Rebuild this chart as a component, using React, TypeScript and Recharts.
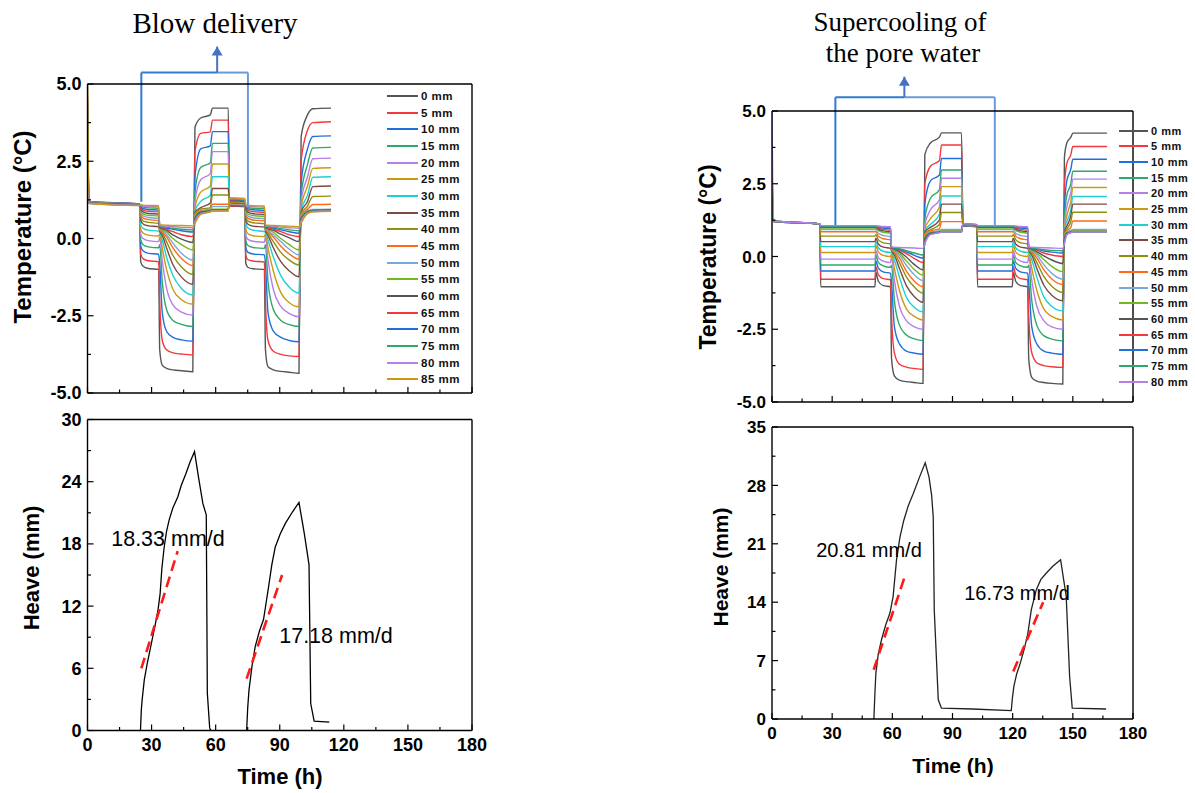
import { Line, LineChart, ReferenceDot, ReferenceLine, XAxis, YAxis } from 'recharts';

const FONT = '"Liberation Sans", Arial, Helvetica, sans-serif';
const SERIF = '"Liberation Serif", "Times New Roman", serif';
const GAP = 6;
const AX = { stroke: '#000', strokeWidth: 1.4 };

const depthLabels = [
  '0 mm', '5 mm', '10 mm', '15 mm', '20 mm', '25 mm', '30 mm', '35 mm', '40 mm',
  '45 mm', '50 mm', '55 mm', '60 mm', '65 mm', '70 mm', '75 mm', '80 mm', '85 mm',
];
const depthColors = [
  '#555555', '#f2393d', '#1f6fdc', '#2ea86a', '#b67fe8', '#cc9a10', '#1ecfd6', '#7b4a44', '#8f8f12',
  '#ff6a14', '#78a7dd', '#70b81e', '#555555', '#f2393d', '#1f6fdc', '#2ea86a', '#b67fe8', '#cc9a10',
];

const timeTicks = [0, 15, 30, 45, 60, 75, 90, 105, 120, 135, 150, 165, 180];
const timeMajors = [0, 30, 60, 90, 120, 150, 180];
const tempTicks = [-5, -3.75, -2.5, -1.25, 0, 1.25, 2.5, 3.75, 5];
const tempMajors = [-5, -2.5, 0, 2.5, 5];
const heaveLeftTicks = [0, 3, 6, 9, 12, 15, 18, 21, 24, 27, 30];
const heaveLeftMajors = [0, 6, 12, 18, 24, 30];
const heaveRightTicks = [0, 3.5, 7, 10.5, 14, 17.5, 21, 24.5, 28, 31.5, 35];
const heaveRightMajors = [0, 7, 14, 21, 28, 35];

// left test (blow delivery): sample times (h) and temperature (°C) per depth
const leftTimes = [
  0, 0.7, 24.4, 24.9, 26, 28.5, 33.3, 33.8, 35, 37, 40, 44, 49.3, 50.3, 53, 57.5, 58.5, 65.9,
  66.4, 73.6, 74.1, 75, 77.5, 82.8, 83.3, 84.5, 87, 90.5, 94.5, 99, 100, 103, 105.5, 114,
];
const leftTemps = [
  [5.0, 1.2, 1.12, -0.75, -0.9, -0.97, -1.0, -3.6, -4.1, -4.2, -4.25, -4.28, -4.31, 3.6, 3.9, 4.0, 4.22, 4.22, 1.05, 1.03, -0.8, -0.93, -0.98, -1.0, -3.6, -4.15, -4.25, -4.3, -4.33, -4.36, 3.3, 4.0, 4.2, 4.22],
  [4.6, 1.19, 1.11, -0.5, -0.65, -0.72, -0.75, -2.0, -3.3, -3.6, -3.7, -3.74, -3.77, 2.8, 3.4, 3.45, 3.83, 3.83, 1.07, 1.05, -0.55, -0.68, -0.73, -0.76, -2.0, -3.3, -3.65, -3.75, -3.8, -3.82, 2.5, 3.5, 3.75, 3.78],
  [4.4, 1.19, 1.11, -0.25, -0.4, -0.48, -0.51, -0.8, -2.4, -3.0, -3.2, -3.28, -3.32, 2.0, 2.9, 3.0, 3.46, 3.46, 1.08, 1.06, -0.3, -0.44, -0.5, -0.53, -0.8, -2.4, -3.0, -3.2, -3.3, -3.34, 1.8, 2.9, 3.3, 3.32],
  [4.2, 1.18, 1.11, -0.05, -0.2, -0.27, -0.3, -0.2, -1.4, -2.3, -2.65, -2.78, -2.85, 1.5, 2.3, 2.45, 3.08, 3.08, 1.1, 1.08, -0.08, -0.22, -0.29, -0.32, -0.2, -1.4, -2.3, -2.65, -2.79, -2.85, 1.4, 2.4, 2.93, 2.95],
  [4.0, 1.18, 1.1, 0.12, 0.0, -0.07, -0.1, 0.05, -0.7, -1.6, -2.15, -2.38, -2.48, 1.2, 1.9, 2.1, 2.81, 2.81, 1.12, 1.1, 0.1, -0.02, -0.09, -0.12, 0.05, -0.7, -1.65, -2.2, -2.43, -2.53, 1.2, 2.0, 2.58, 2.6],
  [3.8, 1.17, 1.1, 0.3, 0.18, 0.11, 0.08, 0.15, -0.3, -1.0, -1.65, -1.98, -2.12, 1.0, 1.5, 1.7, 2.41, 2.41, 1.13, 1.11, 0.3, 0.16, 0.09, 0.06, 0.15, -0.3, -1.05, -1.75, -2.08, -2.21, 1.0, 1.7, 2.27, 2.29],
  [3.9, 1.17, 1.1, 0.45, 0.33, 0.27, 0.24, 0.2, -0.05, -0.6, -1.2, -1.62, -1.83, 0.9, 1.2, 1.4, 2.0, 2.0, 1.15, 1.13, 0.5, 0.35, 0.27, 0.22, 0.2, -0.05, -0.6, -1.2, -1.58, -1.77, 0.9, 1.4, 1.98, 2.0],
  [3.5, 1.17, 1.1, 0.6, 0.47, 0.41, 0.38, 0.25, 0.1, -0.3, -0.85, -1.25, -1.48, 0.85, 1.0, 1.15, 1.62, 1.62, 1.16, 1.14, 0.6, 0.47, 0.4, 0.37, 0.25, 0.1, -0.3, -0.75, -1.05, -1.24, 0.85, 1.2, 1.68, 1.7],
  [3.3, 1.16, 1.09, 0.7, 0.57, 0.52, 0.49, 0.28, 0.18, -0.1, -0.55, -0.92, -1.16, 0.8, 0.95, 1.0, 1.41, 1.41, 1.18, 1.15, 0.7, 0.57, 0.51, 0.48, 0.28, 0.18, -0.1, -0.45, -0.7, -0.86, 0.8, 1.05, 1.36, 1.37],
  [3.0, 1.16, 1.09, 0.78, 0.66, 0.61, 0.58, 0.3, 0.23, 0.05, -0.3, -0.65, -0.88, 0.78, 0.9, 0.95, 1.11, 1.11, 1.2, 1.17, 0.78, 0.66, 0.6, 0.57, 0.3, 0.23, 0.05, -0.25, -0.5, -0.67, 0.78, 0.95, 1.1, 1.11],
  [2.8, 1.16, 1.09, 0.85, 0.73, 0.68, 0.65, 0.32, 0.26, 0.12, -0.15, -0.48, -0.7, 0.75, 0.88, 0.92, 1.03, 1.03, 1.21, 1.18, 0.85, 0.73, 0.67, 0.64, 0.32, 0.26, 0.12, -0.1, -0.35, -0.53, 0.75, 0.9, 0.94, 0.95],
  [2.6, 1.15, 1.08, 0.9, 0.8, 0.75, 0.73, 0.34, 0.29, 0.2, 0.0, -0.2, -0.37, 0.7, 0.86, 0.9, 0.95, 0.95, 1.22, 1.19, 0.9, 0.8, 0.74, 0.72, 0.34, 0.29, 0.2, 0.0, -0.2, -0.37, 0.7, 0.88, 0.92, 0.93],
  [2.4, 1.15, 1.08, 0.95, 0.86, 0.81, 0.79, 0.36, 0.32, 0.26, 0.12, -0.02, -0.13, 0.65, 0.85, 0.9, 0.93, 0.93, 1.23, 1.2, 0.95, 0.86, 0.8, 0.78, 0.36, 0.32, 0.26, 0.14, 0.02, -0.1, 0.65, 0.86, 0.91, 0.92],
  [2.2, 1.15, 1.08, 0.99, 0.92, 0.88, 0.86, 0.38, 0.35, 0.3, 0.22, 0.12, 0.06, 0.6, 0.83, 0.88, 0.92, 0.92, 1.25, 1.22, 0.99, 0.92, 0.87, 0.85, 0.38, 0.35, 0.3, 0.22, 0.12, 0.06, 0.6, 0.85, 0.9, 0.91],
  [2.1, 1.14, 1.08, 1.03, 0.97, 0.94, 0.92, 0.4, 0.38, 0.34, 0.3, 0.25, 0.21, 0.58, 0.82, 0.88, 0.91, 0.91, 1.26, 1.23, 1.03, 0.97, 0.93, 0.91, 0.4, 0.38, 0.34, 0.28, 0.22, 0.17, 0.58, 0.84, 0.89, 0.9],
  [2.0, 1.14, 1.07, 1.06, 1.02, 0.99, 0.98, 0.41, 0.39, 0.37, 0.33, 0.3, 0.28, 0.55, 0.8, 0.87, 0.9, 0.9, 1.28, 1.25, 1.06, 1.01, 0.98, 0.97, 0.41, 0.39, 0.37, 0.32, 0.28, 0.25, 0.55, 0.83, 0.88, 0.9],
  [1.9, 1.14, 1.07, 1.08, 1.05, 1.04, 1.03, 0.42, 0.41, 0.4, 0.38, 0.36, 0.35, 0.55, 0.8, 0.87, 0.9, 0.9, 1.3, 1.27, 1.08, 1.05, 1.03, 1.02, 0.42, 0.41, 0.4, 0.37, 0.35, 0.33, 0.55, 0.82, 0.87, 0.89],
  [5.0, 1.13, 1.07, 1.1, 1.08, 1.07, 1.06, 0.44, 0.44, 0.43, 0.42, 0.42, 0.41, 0.5, 0.78, 0.86, 0.89, 0.89, 1.32, 1.3, 1.1, 1.08, 1.06, 1.05, 0.44, 0.43, 0.42, 0.41, 0.4, 0.38, 0.5, 0.8, 0.86, 0.88],
];

// right test (supercooling): sample times (h) and temperature (°C) per depth, 0–80 mm
const rightTimes = [
  0, 0.8, 23.8, 24.3, 51.3, 51.8, 53, 55.5, 59.1, 59.6, 61, 63.5, 67, 71, 75.3, 76.2, 79, 83.5, 84.5,
  94.5, 95.2, 102, 102.5, 119.8, 120.3, 121.5, 124, 127.5, 128, 129.5, 132, 135.5, 139.5, 145,
  145.8, 147, 149, 150, 167,
];
const rightTemps = [
  [1.8, 1.2, 1.12, -1.04, -1.04, -0.55, -0.85, -1.0, -1.04, -3.5, -4.1, -4.25, -4.3, -4.33, -4.36, 3.5, 3.9, 4.1, 4.25, 4.25, 1.05, 1.02, -1.04, -1.04, -0.55, -0.85, -1.0, -1.04, -3.5, -4.15, -4.28, -4.33, -4.36, -4.38, 3.4, 3.9, 4.1, 4.24, 4.24],
  [2.0, 1.2, 1.12, -0.78, -0.78, -0.35, -0.62, -0.76, -0.8, -2.0, -3.3, -3.7, -3.8, -3.85, -3.88, 2.5, 3.1, 3.3, 3.83, 3.83, 1.06, 1.03, -0.78, -0.78, -0.35, -0.62, -0.76, -0.8, -2.0, -3.3, -3.65, -3.75, -3.79, -3.81, 2.4, 3.2, 3.5, 3.78, 3.78],
  [2.2, 1.2, 1.12, -0.5, -0.5, -0.15, -0.4, -0.53, -0.58, -0.9, -2.4, -3.0, -3.25, -3.32, -3.36, 1.8, 2.6, 2.8, 3.37, 3.37, 1.07, 1.04, -0.5, -0.5, -0.15, -0.4, -0.53, -0.58, -0.9, -2.4, -3.0, -3.25, -3.32, -3.36, 1.7, 2.6, 3.0, 3.34, 3.34],
  [2.4, 1.2, 1.12, -0.29, -0.29, 0.05, -0.2, -0.32, -0.37, -0.3, -1.5, -2.35, -2.7, -2.83, -2.89, 1.3, 2.0, 2.3, 2.97, 2.97, 1.07, 1.04, -0.29, -0.29, 0.05, -0.2, -0.32, -0.37, -0.3, -1.5, -2.35, -2.72, -2.84, -2.9, 1.3, 2.1, 2.5, 2.93, 2.93],
  [2.6, 1.2, 1.12, -0.09, -0.09, 0.2, -0.04, -0.16, -0.21, 0.0, -0.8, -1.7, -2.2, -2.42, -2.5, 1.1, 1.6, 1.95, 2.69, 2.69, 1.08, 1.05, -0.09, -0.09, 0.2, -0.04, -0.16, -0.21, 0.0, -0.8, -1.7, -2.2, -2.42, -2.5, 1.1, 1.7, 2.2, 2.66, 2.66],
  [3.0, 1.21, 1.12, 0.14, 0.14, 0.38, 0.16, 0.04, 0.0, 0.1, -0.4, -1.15, -1.8, -2.06, -2.18, 0.95, 1.3, 1.7, 2.4, 2.4, 1.08, 1.05, 0.14, 0.14, 0.38, 0.16, 0.04, 0.0, 0.1, -0.4, -1.15, -1.8, -2.06, -2.18, 0.95, 1.4, 1.9, 2.37, 2.37],
  [3.2, 1.21, 1.12, 0.34, 0.34, 0.52, 0.3, 0.18, 0.14, 0.15, -0.1, -0.7, -1.4, -1.75, -1.9, 0.9, 1.1, 1.45, 2.08, 2.08, 1.09, 1.06, 0.34, 0.34, 0.52, 0.3, 0.18, 0.14, 0.15, -0.1, -0.7, -1.38, -1.72, -1.87, 0.9, 1.2, 1.6, 2.06, 2.06],
  [2.9, 1.21, 1.12, 0.51, 0.51, 0.63, 0.43, 0.32, 0.28, 0.2, 0.05, -0.4, -1.0, -1.38, -1.57, 0.85, 1.0, 1.25, 1.8, 1.8, 1.09, 1.06, 0.51, 0.51, 0.63, 0.43, 0.32, 0.28, 0.2, 0.05, -0.4, -0.98, -1.33, -1.52, 0.85, 1.05, 1.4, 1.8, 1.8],
  [2.7, 1.21, 1.12, 0.7, 0.7, 0.75, 0.58, 0.47, 0.43, 0.23, 0.12, -0.2, -0.7, -1.05, -1.26, 0.8, 0.92, 1.1, 1.51, 1.51, 1.1, 1.07, 0.7, 0.7, 0.75, 0.58, 0.47, 0.43, 0.23, 0.12, -0.2, -0.68, -1.02, -1.23, 0.8, 0.95, 1.2, 1.52, 1.52],
  [2.5, 1.21, 1.12, 0.85, 0.85, 0.85, 0.7, 0.61, 0.57, 0.25, 0.17, -0.05, -0.5, -0.85, -1.04, 0.75, 0.88, 0.95, 1.2, 1.2, 1.1, 1.07, 0.85, 0.85, 0.85, 0.7, 0.61, 0.57, 0.25, 0.17, -0.05, -0.45, -0.77, -0.96, 0.75, 0.88, 1.0, 1.22, 1.22],
  [2.3, 1.22, 1.12, 0.93, 0.93, 0.92, 0.8, 0.72, 0.68, 0.27, 0.2, 0.05, -0.3, -0.63, -0.83, 0.7, 0.85, 0.88, 0.93, 0.93, 1.1, 1.07, 0.93, 0.93, 0.92, 0.8, 0.72, 0.68, 0.27, 0.2, 0.05, -0.28, -0.58, -0.78, 0.7, 0.85, 0.9, 0.93, 0.93],
  [2.1, 1.22, 1.12, 0.98, 0.98, 0.97, 0.9, 0.83, 0.8, 0.28, 0.23, 0.12, -0.15, -0.45, -0.64, 0.65, 0.82, 0.86, 0.88, 0.88, 1.11, 1.08, 0.98, 0.98, 0.97, 0.9, 0.83, 0.8, 0.28, 0.23, 0.12, -0.1, -0.34, -0.52, 0.65, 0.82, 0.86, 0.88, 0.88],
  [1.9, 1.22, 1.12, 1.0, 1.0, 1.0, 0.94, 0.88, 0.85, 0.29, 0.25, 0.17, -0.02, -0.28, -0.46, 0.6, 0.8, 0.84, 0.86, 0.86, 1.11, 1.08, 1.0, 1.0, 1.0, 0.94, 0.88, 0.85, 0.29, 0.25, 0.17, 0.02, -0.12, -0.24, 0.6, 0.8, 0.84, 0.86, 0.86],
  [1.7, 1.22, 1.12, 1.02, 1.02, 1.02, 0.98, 0.93, 0.9, 0.3, 0.27, 0.22, 0.1, -0.07, -0.21, 0.55, 0.78, 0.83, 0.85, 0.85, 1.12, 1.09, 1.02, 1.02, 1.02, 0.98, 0.93, 0.9, 0.3, 0.27, 0.22, 0.12, 0.05, 0.0, 0.55, 0.78, 0.83, 0.85, 0.85],
  [1.6, 1.22, 1.12, 1.04, 1.04, 1.04, 1.01, 0.98, 0.96, 0.31, 0.29, 0.25, 0.16, 0.04, -0.06, 0.5, 0.77, 0.83, 0.85, 0.85, 1.12, 1.09, 1.04, 1.04, 1.04, 1.01, 0.98, 0.96, 0.31, 0.29, 0.25, 0.19, 0.15, 0.12, 0.5, 0.77, 0.83, 0.85, 0.85],
  [1.5, 1.22, 1.12, 1.05, 1.05, 1.05, 1.03, 1.01, 1.0, 0.32, 0.3, 0.27, 0.2, 0.12, 0.05, 0.45, 0.76, 0.82, 0.84, 0.84, 1.12, 1.09, 1.05, 1.05, 1.05, 1.03, 1.01, 1.0, 0.32, 0.3, 0.27, 0.23, 0.21, 0.2, 0.45, 0.76, 0.82, 0.84, 0.84],
  [5.0, 1.22, 1.12, 1.06, 1.06, 1.06, 1.05, 1.03, 1.02, 0.33, 0.32, 0.31, 0.3, 0.29, 0.28, 0.45, 0.75, 0.82, 0.84, 0.84, 1.13, 1.1, 1.06, 1.06, 1.06, 1.05, 1.03, 1.02, 0.33, 0.32, 0.31, 0.3, 0.29, 0.28, 0.45, 0.75, 0.82, 0.84, 0.84],
];

// heave (mm) vs time (h)
const leftHeaveA = [[24.8, 0], [25.2, 2.0], [25.6, 3.0], [26.6, 4.9], [28, 6.5], [30, 8.5], [31.5, 10.0], [33, 11.6], [34, 13.2], [34.8, 15.6], [35.9, 17.7], [37, 19.2], [38.2, 20.3], [40, 21.5], [42.2, 22.5], [44, 23.7], [46.1, 24.8], [48, 25.9], [50.1, 26.9], [52, 24.4], [54, 21.9], [55.6, 20.8], [56.1, 3.6], [57.2, 0.25], [57.7, 0]];
const leftHeaveB = [[74.5, 0], [75, 2.2], [75.6, 3.9], [77, 6.2], [78.5, 8.1], [80.5, 9.6], [82.4, 10.7], [83.6, 12.3], [84.8, 13.9], [86.3, 16.0], [87.9, 17.7], [90.3, 19.0], [92.7, 20.0], [96, 21.1], [99, 22.0], [101.5, 19.0], [103.7, 16.0], [104.5, 2.6], [106.1, 0.9], [113.2, 0.8]];
const leftFitA = [[25.2, 6.0], [42.2, 17.3]];
const leftFitB = [[74.5, 5.0], [91.1, 15.0]];
const rightHeave = [[50.8, 0], [51.3, 3.0], [51.8, 5.5], [53, 7.8], [54.6, 9.5], [56.6, 11.2], [58.8, 12.7], [60.4, 14.7], [62.1, 19.1], [63.8, 21.8], [65.7, 23.8], [68, 25.6], [70.4, 27.0], [73.4, 28.9], [76.4, 30.7], [78.3, 29.0], [79.6, 26.8], [80.4, 24.2], [80.9, 13.1], [82.9, 2.3], [84.5, 1.3], [100, 1.2], [119.3, 1.0], [119.9, 2.6], [120.6, 3.9], [122, 5.4], [123.8, 6.7], [125.8, 8.4], [127.6, 10.3], [129.3, 13.1], [131.8, 15.5], [134, 16.7], [136.8, 17.5], [140, 18.3], [143.9, 19.1], [146.7, 14.7], [148.4, 5.1], [149.7, 1.3], [166.6, 1.2]];
const rightFitA = [[50.7, 5.9], [66.8, 17.5]];
const rightFitB = [[120.3, 5.7], [135.2, 14.0]];

// bracket annotations, in data units of each temperature panel
const leftBracket = { x1: 25.2, x2: 75.1, xArrow: 60.7, top: 5.37, footL: 1.19, footR: 1.03, tip: 6.21 };
const rightBracket = { x1: 31.6, x2: 111.1, xArrow: 66.0, top: 5.47, footL: 1.08, footR: 1.02, tip: 6.18 };

const toPoints = (times: number[], row: number[]) => row.map((v, i) => ({ t: times[i], v }));
const pairs = (rows: number[][]) => rows.map(([t, v]) => ({ t, v }));

function axisTick(side: 'left' | 'bottom', majors: number[], fmt: ((v: number) => string) | null, fontSize: number) {
  return (p: any) => {
    const v: number = p.payload.value;
    const major = majors.some((m) => Math.abs(m - v) < 1e-9);
    const len = major ? 6 : 3.5;
    const textStyle = { fontFamily: FONT, fontWeight: 700, fontSize, fill: '#000' };
    if (side === 'left') {
      const ax = p.x + GAP;
      return (
        <g>
          <line x1={ax} y1={p.y} x2={ax + len} y2={p.y} stroke="#000" strokeWidth={1.2} />
          {fmt && major ? (
            <text x={p.x} y={p.y} dy="0.36em" textAnchor="end" style={textStyle}>{fmt(v)}</text>
          ) : null}
        </g>
      );
    }
    const ay = p.y - GAP;
    return (
      <g>
        <line x1={p.x} y1={ay} x2={p.x} y2={ay - len} stroke="#000" strokeWidth={1.2} />
        {fmt && major ? (
          <text x={p.x} y={ay + 8} dy="0.72em" textAnchor="middle" style={textStyle}>{fmt(v)}</text>
        ) : null}
      </g>
    );
  };
}

const DARK = '#2f7bd0';
const LIGHT = '#6b9ad8';
const ARROW = '#4472c4';

function bracketMarks(b: typeof leftBracket) {
  const common = { strokeWidth: 2, ifOverflow: 'visible' as const };
  return [
    <ReferenceLine key="bl" segment={[{ x: b.x1, y: b.footL }, { x: b.x1, y: b.top }]} stroke={DARK} {...common} />,
    <ReferenceLine key="bh1" segment={[{ x: b.x1, y: b.top }, { x: b.xArrow, y: b.top }]} stroke={DARK} {...common} />,
    <ReferenceLine key="bh2" segment={[{ x: b.xArrow, y: b.top }, { x: b.x2, y: b.top }]} stroke={LIGHT} {...common} />,
    <ReferenceLine key="br" segment={[{ x: b.x2, y: b.top }, { x: b.x2, y: b.footR }]} stroke={LIGHT} {...common} />,
    <ReferenceLine key="bs" segment={[{ x: b.xArrow, y: b.top }, { x: b.xArrow, y: b.tip }]} stroke={ARROW} {...common} />,
    <ReferenceDot
      key="bt"
      x={b.xArrow}
      y={b.tip}
      r={5}
      ifOverflow="visible"
      shape={(p: any) => <path d={`M${p.cx},${p.cy} L${p.cx + 5.5},${p.cy + 9} L${p.cx - 5.5},${p.cy + 9} Z`} fill={ARROW} />}
    />,
  ];
}

type Margin = { top: number; right: number; bottom: number; left: number };

// each axis takes 1px, so the plot area sits exactly at the requested margins
const inner = (m: Margin): Margin => ({ top: m.top - 1, right: m.right - 1, bottom: m.bottom - 1, left: m.left - 1 });

interface TempProps {
  times: number[];
  temps: number[][];
  width: number;
  height: number;
  margin: Margin;
  bracket: typeof leftBracket;
  fontSize: number;
}

function TempChart({ times, temps, width, height, margin, bracket, fontSize }: TempProps) {
  return (
    <LineChart width={width} height={height} margin={inner(margin)}>
      <XAxis type="number" dataKey="t" domain={[0, 180]} ticks={timeTicks} interval={0} height={1}
        tickSize={0} tickMargin={GAP} tickLine={false} axisLine={AX} allowDataOverflow
        tick={axisTick('bottom', timeMajors, null, fontSize)} />
      <XAxis xAxisId="top" orientation="top" type="number" domain={[0, 180]} height={1}
        tick={false} tickLine={false} axisLine={AX} />
      <YAxis type="number" domain={[-5, 5]} ticks={tempTicks} interval={0} width={1}
        tickSize={0} tickMargin={GAP} tickLine={false} axisLine={AX} allowDataOverflow
        tick={axisTick('left', tempMajors, (v) => v.toFixed(1), fontSize)} />
      <YAxis yAxisId="right" orientation="right" type="number" domain={[-5, 5]} width={1}
        tick={false} tickLine={false} axisLine={AX} />
      {temps.map((row, i) => (
        <Line key={depthLabels[i]} data={toPoints(times, row)} dataKey="v" type="monotone"
          stroke={depthColors[i]} strokeWidth={1.4} dot={false} isAnimationActive={false} />
      ))}
      {bracketMarks(bracket)}
    </LineChart>
  );
}

interface HeaveProps {
  curves: number[][][];
  fits: number[][][];
  width: number;
  height: number;
  margin: Margin;
  yMax: number;
  ticks: number[];
  majors: number[];
  stroke: string;
  fontSize: number;
}

function HeaveChart({ curves, fits, width, height, margin, yMax, ticks, majors, stroke, fontSize }: HeaveProps) {
  return (
    <LineChart width={width} height={height} margin={inner(margin)}>
      <XAxis type="number" dataKey="t" domain={[0, 180]} ticks={timeTicks} interval={0} height={1}
        tickSize={0} tickMargin={GAP} tickLine={false} axisLine={AX} allowDataOverflow
        tick={axisTick('bottom', timeMajors, (v) => String(v), fontSize)} />
      <XAxis xAxisId="top" orientation="top" type="number" domain={[0, 180]} height={1}
        tick={false} tickLine={false} axisLine={AX} />
      <YAxis type="number" domain={[0, yMax]} ticks={ticks} interval={0} width={1}
        tickSize={0} tickMargin={GAP} tickLine={false} axisLine={AX} allowDataOverflow
        tick={axisTick('left', majors, (v) => String(v), fontSize)} />
      <YAxis yAxisId="right" orientation="right" type="number" domain={[0, yMax]} width={1}
        tick={false} tickLine={false} axisLine={AX} />
      {curves.map((c, i) => (
        <Line key={`h${i}`} data={pairs(c)} dataKey="v" type="linear" stroke={stroke}
          strokeWidth={1.3} dot={false} isAnimationActive={false} />
      ))}
      {fits.map((f, i) => (
        <Line key={`f${i}`} data={pairs(f)} dataKey="v" type="linear" stroke="#ff1a1a"
          strokeWidth={2.6} strokeDasharray="11 6" dot={false} isAnimationActive={false} />
      ))}
    </LineChart>
  );
}

function Legend({ count, x, y, step, lineW, fontSize }: { count: number; x: number; y: number; step: number; lineW: number; fontSize: number }) {
  return (
    <>
      {depthLabels.slice(0, count).map((label, i) => (
        <div key={label} style={{ position: 'absolute', left: x, top: y + i * step - 7, height: 14, display: 'flex', alignItems: 'center' }}>
          <div style={{ width: lineW, height: 2, background: depthColors[i] }} />
          <span style={{ marginLeft: 3, fontFamily: FONT, fontWeight: 700, fontSize, letterSpacing: 0.5, lineHeight: '14px', color: '#111' }}>
            {label}
          </span>
        </div>
      ))}
    </>
  );
}

function Text({ x, y, size, children, bold, rotate, serif }: any) {
  return (
    <div style={{
      position: 'absolute', left: x, top: y, transform: `translate(-50%, -50%)${rotate ? ' rotate(-90deg)' : ''}`,
      fontFamily: serif ? SERIF : FONT, fontWeight: bold ? 700 : 400, fontSize: size, lineHeight: 1,
      whiteSpace: 'nowrap', color: '#000',
    }}>
      {children}
    </div>
  );
}

export default function App() {
  return (
    <div style={{ position: 'absolute', left: 0, top: 0, width: 1195, height: 793, background: '#fff', overflow: 'hidden' }}>
      <div style={{ position: 'absolute', left: 0, top: 0 }}>
        <TempChart times={leftTimes} temps={leftTemps} width={480} height={410}
          margin={{ top: 84, right: 8, bottom: 17, left: 87.5 }} bracket={leftBracket} fontSize={18} />
      </div>
      <div style={{ position: 'absolute', left: 0, top: 410 }}>
        <HeaveChart curves={[leftHeaveA, leftHeaveB]} fits={[leftFitA, leftFitB]} width={500} height={383}
          margin={{ top: 9.5, right: 28, bottom: 62.5, left: 87.5 }} yMax={30}
          ticks={heaveLeftTicks} majors={heaveLeftMajors} stroke="#000" fontSize={18} />
      </div>
      <div style={{ position: 'absolute', left: 690, top: 0 }}>
        <TempChart times={rightTimes} temps={rightTemps} width={505} height={416}
          margin={{ top: 111, right: 62, bottom: 14, left: 82 }} bracket={rightBracket} fontSize={17} />
      </div>
      <div style={{ position: 'absolute', left: 690, top: 416 }}>
        <HeaveChart curves={[rightHeave]} fits={[rightFitA, rightFitB]} width={470} height={377}
          margin={{ top: 11, right: 27, bottom: 74, left: 82 }} yMax={35}
          ticks={heaveRightTicks} majors={heaveRightMajors} stroke="#222" fontSize={17} />
      </div>

      <Legend count={18} x={387} y={96} step={16.67} lineW={31} fontSize={11.5} />
      <Legend count={17} x={1119} y={130.7} step={15.68} lineW={29} fontSize={11} />

      <Text x={215} y={23} size={29} serif>Blow delivery</Text>
      <Text x={900} y={22} size={27} serif>Supercooling of</Text>
      <Text x={903} y={53} size={27} serif>the pore water</Text>

      <Text x={23} y={227} size={24} bold rotate>Temperature (°C)</Text>
      <Text x={708} y={257} size={23} bold rotate>Temperature (°C)</Text>
      <Text x={32} y={568} size={22} bold rotate>Heave (mm)</Text>
      <Text x={720} y={567} size={21} bold rotate>Heave (mm)</Text>
      <Text x={280} y={777} size={22} bold>Time (h)</Text>
      <Text x={953} y={765} size={21} bold>Time (h)</Text>

      <Text x={168} y={540} size={21.5}>18.33 mm/d</Text>
      <Text x={336} y={637} size={21.5}>17.18 mm/d</Text>
      <Text x={869} y={550} size={20}>20.81 mm/d</Text>
      <Text x={1017} y={593} size={20}>16.73 mm/d</Text>
    </div>
  );
}
